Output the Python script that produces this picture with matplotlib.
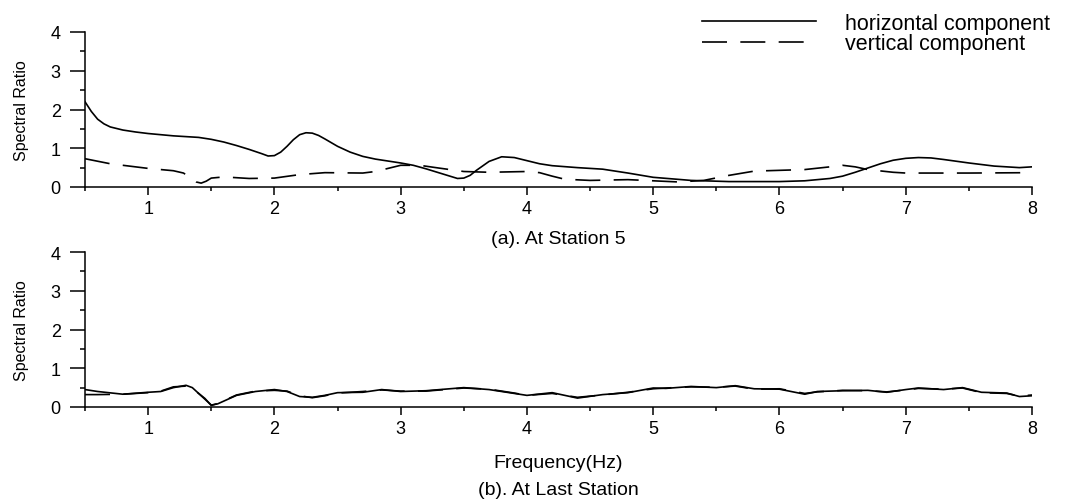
import numpy as np
import matplotlib.pyplot as plt
from matplotlib.ticker import MultipleLocator

plt.rcParams['font.family'] = ['Liberation Sans', 'DejaVu Sans']

# (a) At Station 5
freq_a_h = [0.5, 0.55, 0.6, 0.65, 0.7, 0.8, 0.9, 1.0, 1.2, 1.4, 1.5, 1.6, 1.7, 1.8, 1.9,
            1.95, 2.0, 2.05, 2.1, 2.15, 2.2, 2.25, 2.3, 2.35, 2.4, 2.5, 2.6, 2.7, 2.8, 2.9,
            3.0, 3.1, 3.2, 3.3, 3.4, 3.45, 3.5, 3.55, 3.6, 3.7, 3.8, 3.9, 4.0, 4.1, 4.2,
            4.4, 4.6, 4.8, 5.0, 5.3, 5.6, 6.0, 6.2, 6.4, 6.5, 6.6, 6.7, 6.8, 6.9, 7.0,
            7.1, 7.2, 7.3, 7.5, 7.7, 7.9, 8.0]
ratio_a_h = [2.2, 1.95, 1.75, 1.63, 1.55, 1.47, 1.42, 1.38, 1.32, 1.28, 1.23, 1.16, 1.07, 0.97, 0.86,
             0.8, 0.81, 0.9, 1.05, 1.22, 1.35, 1.4, 1.39, 1.33, 1.24, 1.05, 0.9, 0.79, 0.72, 0.67,
             0.62, 0.56, 0.47, 0.37, 0.27, 0.22, 0.23, 0.3, 0.43, 0.66, 0.78, 0.76, 0.68, 0.6, 0.55,
             0.5, 0.46, 0.36, 0.25, 0.17, 0.14, 0.14, 0.16, 0.22, 0.28, 0.38, 0.49, 0.6, 0.69, 0.74,
             0.76, 0.75, 0.71, 0.62, 0.54, 0.5, 0.52]

freq_a_v = [0.5, 0.7, 1.0, 1.2, 1.28, 1.33, 1.38, 1.42, 1.46, 1.5, 1.6, 1.8, 2.0, 2.2, 2.4,
            2.7, 2.8, 2.9, 3.0, 3.15, 3.3, 3.5, 3.7, 4.0, 4.1, 4.2, 4.3, 4.5, 4.8, 5.0,
            5.2, 5.4, 5.6, 5.8, 6.0, 6.2, 6.4, 6.5, 6.6, 6.7, 6.9, 7.0, 7.5, 8.0]
ratio_a_v = [0.73, 0.6, 0.48, 0.42, 0.36, 0.25, 0.13, 0.1, 0.15, 0.23, 0.26, 0.22, 0.23, 0.32, 0.37,
             0.36, 0.4, 0.48, 0.56, 0.56, 0.49, 0.4, 0.38, 0.4, 0.37, 0.28, 0.2, 0.17, 0.19, 0.16,
             0.13, 0.17, 0.3, 0.41, 0.43, 0.45, 0.52, 0.56, 0.52, 0.45, 0.38, 0.36, 0.36, 0.37]

# (b) At Last Station
freq_b = [0.5, 0.6, 0.8, 1.0, 1.1, 1.2, 1.3, 1.35, 1.45, 1.5, 1.55, 1.7, 1.85, 2.0, 2.1,
          2.2, 2.3, 2.4, 2.5, 2.7, 2.85, 3.0, 3.2, 3.5, 3.7, 3.9, 4.0, 4.2, 4.4, 4.6,
          4.8, 5.0, 5.1, 5.3, 5.5, 5.65, 5.8, 6.0, 6.2, 6.3, 6.5, 6.7, 6.85, 7.0, 7.1,
          7.3, 7.45, 7.6, 7.8, 7.9, 8.0]
ratio_b_h = [0.45, 0.4, 0.33, 0.38, 0.4, 0.5, 0.56, 0.5, 0.2, 0.05, 0.08, 0.3, 0.4, 0.45, 0.4,
             0.27, 0.25, 0.3, 0.37, 0.38, 0.45, 0.4, 0.42, 0.5, 0.45, 0.35, 0.3, 0.37, 0.23, 0.32,
             0.37, 0.49, 0.48, 0.53, 0.5, 0.55, 0.47, 0.46, 0.33, 0.4, 0.42, 0.43, 0.38, 0.45, 0.49,
             0.45, 0.5, 0.38, 0.36, 0.27, 0.29]
ratio_b_v = [0.32, 0.32, 0.33, 0.37, 0.41, 0.52, 0.54, 0.48, 0.22, 0.04, 0.09, 0.31, 0.41, 0.43, 0.41,
             0.29, 0.24, 0.29, 0.36, 0.4, 0.44, 0.41, 0.41, 0.49, 0.46, 0.36, 0.3, 0.35, 0.25, 0.31,
             0.38, 0.47, 0.49, 0.52, 0.51, 0.54, 0.46, 0.47, 0.35, 0.39, 0.43, 0.42, 0.39, 0.44, 0.48,
             0.46, 0.49, 0.37, 0.35, 0.28, 0.31]

x_ticks = [1, 2, 3, 4, 5, 6, 7, 8]
y_ticks = [0, 1, 2, 3, 4]

W, H = 1076, 502
X0, X1 = 85, 1032
fig = plt.figure(figsize=(W / 100, H / 100), dpi=100)
ax_a = fig.add_axes([X0 / W, 1 - 188 / H, (X1 - X0) / W, 155 / H])
ax_b = fig.add_axes([X0 / W, 1 - 408 / H, (X1 - X0) / W, 155 / H])

dash = (0, (15, 8))


def style(ax):
    ax.set_xlim(0.5, 8)
    ax.set_ylim(0, 4)
    ax.set_xticks(x_ticks)
    ax.set_yticks(y_ticks)
    ax.xaxis.set_minor_locator(MultipleLocator(0.5))
    ax.yaxis.set_minor_locator(MultipleLocator(0.5))
    for s in ['top', 'right']:
        ax.spines[s].set_visible(False)
    for s in ['left', 'bottom']:
        ax.spines[s].set_linewidth(1.1)
    ax.tick_params(axis='x', which='major', direction='out', length=5.5, width=1.1,
                   labelsize=13, pad=4)
    ax.tick_params(axis='x', which='minor', direction='out', length=2.8, width=1.1)
    ax.tick_params(axis='y', which='major', direction='out', length=10.5, width=1.1,
                   labelsize=13, pad=7)
    ax.tick_params(axis='y', which='minor', direction='out', length=3.6, width=1.1)
    ax.set_ylabel('Spectral Ratio', fontsize=11.5)
    ax.yaxis.set_label_coords((29 - X0) / (X1 - X0), 0.5)


style(ax_a)
h1, = ax_a.plot(freq_a_h, ratio_a_h, color='black', lw=1.2, label='horizontal component')
h2, = ax_a.plot(freq_a_v, ratio_a_v, color='black', lw=1.2, linestyle=dash, label='vertical component')
fig.legend(handles=[h1, h2], loc='upper left', bbox_to_anchor=(702 / W, 1 - 14 / H),
           frameon=False, fontsize=15.5, handlelength=5.3, handletextpad=1.35,
           labelspacing=-0.03, borderpad=0, borderaxespad=0)
ax_a.set_xlabel('(a). At Station 5', fontsize=14, va='center')
ax_a.xaxis.set_label_coords(0.5, (188 - 239) / 155)

style(ax_b)
ax_b.plot(freq_b, ratio_b_h, color='black', lw=1.2)
ax_b.plot(freq_b, ratio_b_v, color='black', lw=1.2, linestyle=dash)
ax_b.set_xlabel('Frequency(Hz)', fontsize=14, va='center')
ax_b.xaxis.set_label_coords(0.5, (408 - 463) / 155)
fig.text((X0 + X1) / 2 / W, 1 - 491 / H, '(b). At Last Station', fontsize=14,
         ha='center', va='center')

fig.savefig('out.png', dpi=100)
